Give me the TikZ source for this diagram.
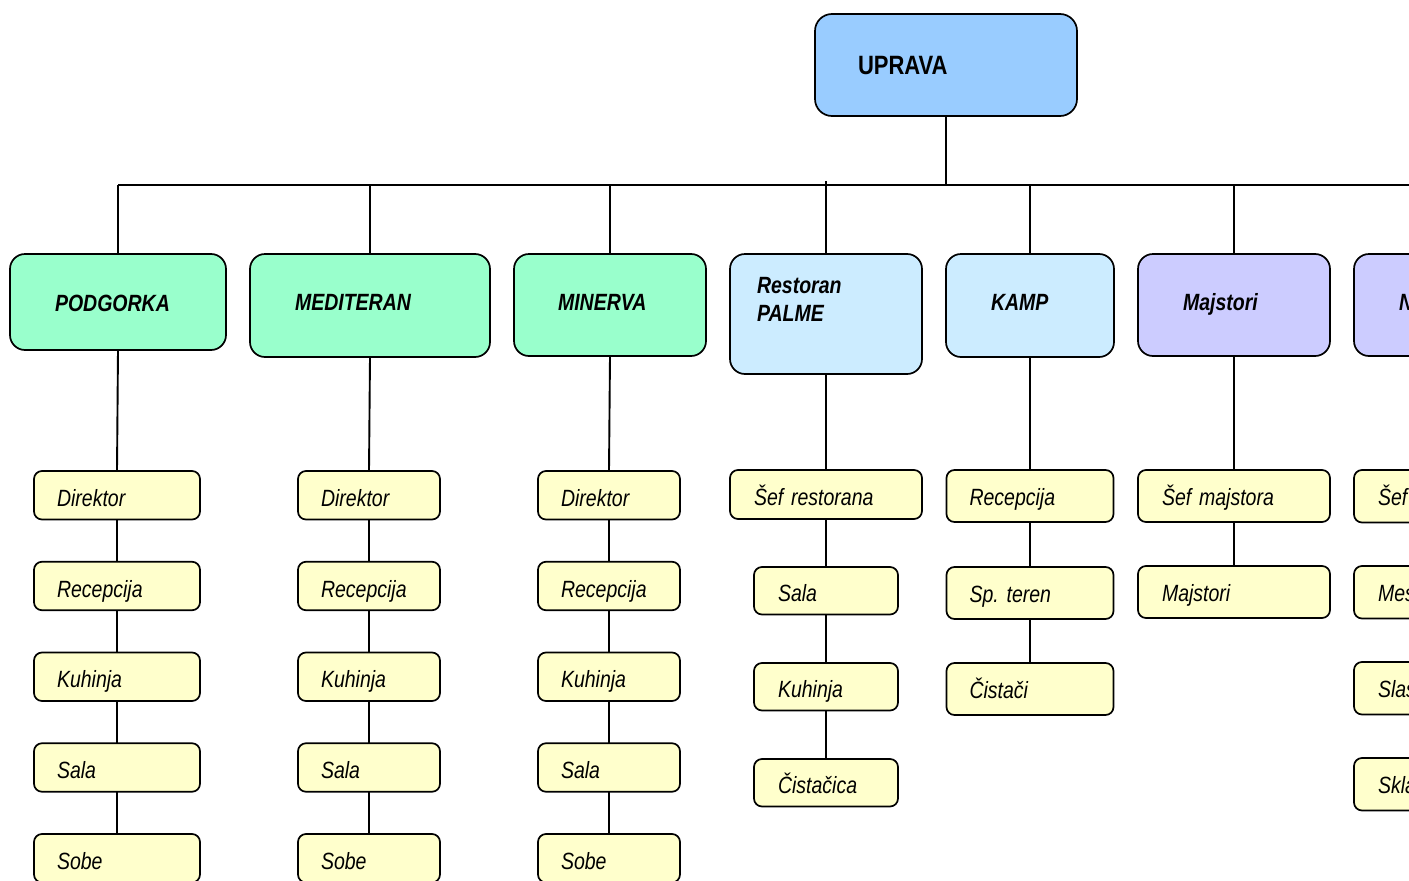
\documentclass[tikz,border=0pt]{standalone}
\usepackage{fontspec}
\setmainfont{Liberation Sans}[FakeStretch=0.83]
\usetikzlibrary{positioning}
\definecolor{upravaBlue}{HTML}{99CCFF}
\definecolor{hotelGreen}{HTML}{99FFCC}
\definecolor{serviceBlue}{HTML}{CCECFF}
\definecolor{crewViolet}{HTML}{CCCCFF}
\definecolor{staffYellow}{HTML}{FFFFCC}

\begin{document}
\begin{tikzpicture}[
  x=1pt, y=-1pt,
  frame/.style={draw=black, line width=1.7pt, anchor=north west,
               inner sep=0pt, outer sep=0pt, align=left},
  chief/.style={frame, fill=upravaBlue, rounded corners=17pt,
               font=\fontsize{26.5}{30}\selectfont\bfseries,
               text height=19pt, text depth=0pt},
  dept/.style={frame, rounded corners=15pt,
               font=\fontsize{23.5}{28}\selectfont\bfseries\itshape,
               text height=18pt, text depth=8pt},
  staff/.style={frame, fill=staffYellow, rounded corners=8pt,
               font=\fontsize{23.5}{26}\selectfont\itshape,
               text height=22pt, text depth=0pt},
  link/.style={draw=black, line width=1.9pt},
]
\useasboundingbox (0,0) rectangle (1409,881);
\clip (0,0) rectangle (1409,881);

% ── management ───────────────────────────────────────────────────────────────
\node[chief, minimum width=262pt, minimum height=102pt, text width=176pt]
  (uprava) at (815,14) {UPRAVA};

% ── departments ──────────────────────────────────────────────────────────────
\node[dept, fill=hotelGreen, minimum width=216pt, minimum height=96pt, text width=126pt,
      text depth=0pt]
  (podgorka) at (10,254) {PODGORKA};
\node[dept, fill=hotelGreen, minimum width=240pt, minimum height=103pt, text width=150pt]
  (mediteran) at (250,254) {MEDITERAN};
\node[dept, fill=hotelGreen, minimum width=192pt, minimum height=102pt, text width=104pt]
  (minerva) at (514,254) {MINERVA};
\node[dept, fill=serviceBlue, minimum width=192pt, minimum height=120pt, text width=138pt,
      text depth=60pt]
  (palme) at (730,254) {Restoran\\PALME};
\node[dept, fill=serviceBlue, minimum width=168pt, minimum height=103pt, text width=78pt]
  (kamp) at (946,254) {KAMP};
\node[dept, fill=crewViolet, minimum width=192pt, minimum height=102pt, text width=102pt]
  (majstori) at (1138,254) {Majstori};
\node[dept, fill=crewViolet, minimum width=192pt, minimum height=102pt, text width=102pt]
  (ncol) at (1354,254) {N};

% bus line under UPRAVA
\coordinate (bus) at (0,185);
\coordinate (busE) at (1420,185);
\coordinate (tick) at (0,181);
\draw[link] (uprava.south) -- (uprava.south |- bus);
\draw[link] (podgorka.north |- bus) -- (busE);
\foreach \d in {podgorka, mediteran, minerva, kamp, majstori, ncol}{
  \draw[link] (\d.north) -- (\d.north |- bus);
}
\draw[link] (palme.north) -- (palme.north |- tick);

% ── hotel staff ──────────────────────────────────────────────────────────────
% columns: x / width / text width / prefix
\foreach \hx/\hw/\tw/\p in {34/166/120/pod, 298/142/96/med, 538/142/96/min}{
  \foreach \t [count=\i] in {Direktor, Recepcija, Kuhinja, Sala, Sobe}{
    \node[staff, minimum width=\hw pt, minimum height=48.5pt, text width=\tw pt]
      (\p\i) at (\hx,{471+90.75*(\i-1)}) {\t};
  }
}
\foreach \d/\p in {podgorka/pod, mediteran/med, minerva/min}{
  \draw[link] (\d.south) -- (\p1.north);
  \foreach \i/\j in {1/2, 2/3, 3/4, 4/5}{ \draw[link] (\p\i.south) -- (\p\j.north); }
}

% restaurant
\node[staff, minimum width=192pt, minimum height=49pt, text width=144pt]
  (pal1) at (730,470) {Šef restorana};
\foreach \t/\y [count=\i from 2] in {Sala/567, Kuhinja/663, Čistačica/759}{
  \node[staff, minimum width=144pt, minimum height=47.5pt, text width=96pt]
    (pal\i) at (754,\y) {\t};
}

% camp
\foreach \t/\y [count=\i] in {Recepcija/470, Sp.\ teren/567, Čistači/663}{
  \node[staff, minimum width=167pt, minimum height=52pt, text width=121pt,
        text depth=4pt]
    (kam\i) at (946.5,\y) {\t};
}

% crews
\foreach \t/\y [count=\i] in {Šef majstora/470, Majstori/566}{
  \node[staff, minimum width=192pt, minimum height=52pt, text width=144pt,
        text depth=4pt]
    (maj\i) at (1138,\y) {\t};
}
\foreach \t/\y [count=\i] in {Šef/470, Mes/566, Slas/662, Skla/758}{
  \node[staff, minimum width=192pt, minimum height=52.5pt, text width=144pt,
        text depth=4pt]
    (nc\i) at (1354,\y) {\t};
}

\draw[link] (palme.south) -- (pal1.north);
\foreach \i/\j in {1/2, 2/3, 3/4}{ \draw[link] (pal\i.south) -- (pal\j.north); }
\draw[link] (kamp.south) -- (kam1.north);
\foreach \i/\j in {1/2, 2/3}{ \draw[link] (kam\i.south) -- (kam\j.north); }
\draw[link] (majstori.south) -- (maj1.north);
\draw[link] (maj1.south) -- (maj2.north);

\end{tikzpicture}
\end{document}
